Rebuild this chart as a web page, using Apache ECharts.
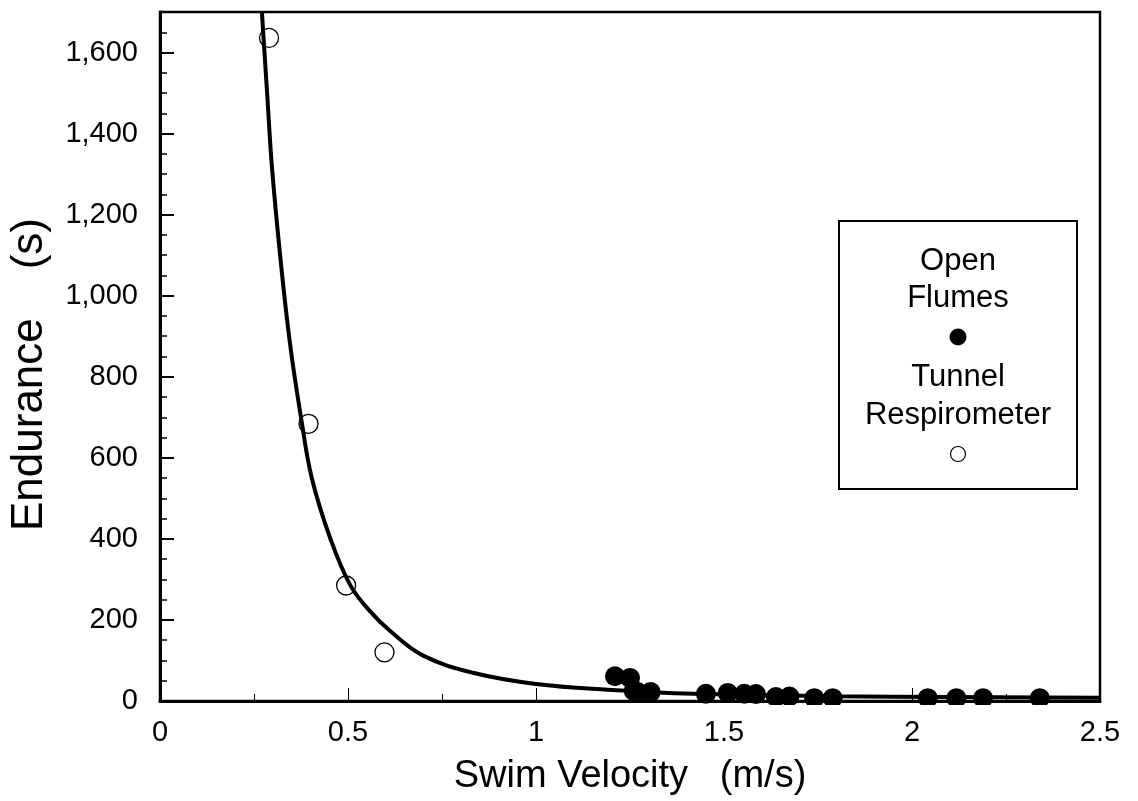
<!DOCTYPE html>
<html>
<head>
<meta charset="utf-8">
<script src="https://cdn.jsdelivr.net/npm/echarts@6/dist/echarts.min.js"></script>
<style>
  html, body { margin: 0; padding: 0; background: #fff; }
  #main { width: 1138px; height: 801px; }
</style>
</head>
<body>
<div id="main"></div>
<script>
// fitted curve
var fitVelocity  = [0.271, 0.286, 0.2975, 0.32, 0.346, 0.377, 0.404, 0.453, 0.506, 0.559, 0.613, 0.70, 0.835, 1.0, 1.19, 1.42, 1.8, 2.1, 2.5];
var fitEndurance = [1700, 1484, 1320, 1095, 880, 688, 549, 401, 286, 221, 172, 112, 69, 42, 28, 18, 12, 10, 8];

// open flumes (filled dots)
var flumeVelocity  = [1.21, 1.25, 1.26, 1.27, 1.305, 1.452, 1.51, 1.554, 1.585, 1.638, 1.674, 1.74, 1.789, 2.042, 2.118, 2.189, 2.34];
var flumeEndurance = [61, 57, 25, 22, 22, 18, 20, 18, 17, 10, 11, 7, 7, 7, 7, 7, 7];

// tunnel respirometer (open circles)
var tunnelVelocity  = [0.29, 0.395, 0.495, 0.597];
var tunnelEndurance = [1636, 684, 285, 120];

var seriesNames = ['Open\nFlumes', 'Tunnel\nRespirometer'];

function pairs(xs, ys) {
    var out = [];
    for (var i = 0; i < xs.length; i++) out.push([xs[i], ys[i]]);
    return out;
}

var font = 'Liberation Sans, Arial, sans-serif';
var G = { left: 160, top: 12, right: 38, bottom: 98 };
var W = 1138, H = 801;

var chart = echarts.init(document.getElementById('main'));

var option = {
    animation: false,
    backgroundColor: '#fff',
    grid: {
        left: G.left, top: G.top, right: G.right, bottom: G.bottom,
        show: true,
        borderColor: '#000',
        borderWidth: 2.5
    },
    xAxis: {
        type: 'value',
        min: 0, max: 2.5, interval: 0.5,
        name: 'Swim Velocity   (m/s)',
        nameLocation: 'middle',
        nameGap: 57,
        nameTextStyle: { fontFamily: font, fontSize: 38, color: '#000' },
        axisLine: { lineStyle: { color: '#000', width: 3 } },
        axisTick: { inside: true, length: 13, lineStyle: { color: '#000', width: 1 } },
        minorTick: { show: true, splitNumber: 2, length: 7, lineStyle: { color: '#000', width: 1 } },
        axisLabel: { fontFamily: font, fontSize: 29, color: '#000', margin: 17 },
        splitLine: { show: false }
    },
    yAxis: {
        type: 'value',
        min: 0, max: 1700, interval: 200,
        name: 'Endurance    (s)',
        nameLocation: 'middle',
        nameGap: 108,
        nameTextStyle: { fontFamily: font, fontSize: 44, color: '#000', padding: [0, 36, 0, 0] },
        axisLine: { show: true, lineStyle: { color: '#000', width: 3 } },
        axisTick: { inside: true, length: 14, lineStyle: { color: '#000', width: 2 } },
        minorTick: { show: true, splitNumber: 4, length: 7, lineStyle: { color: '#000', width: 1.5 } },
        axisLabel: {
            fontFamily: font, fontSize: 29, color: '#000', margin: 22,
            showMaxLabel: false,
            formatter: function (v) { return v.toLocaleString('en-US'); }
        },
        splitLine: { show: false }
    },
    series: [
        {
            name: 'fit',
            type: 'line',
            data: pairs(fitVelocity, fitEndurance),
            smooth: 0.4,
            showSymbol: false,
            clip: true,
            lineStyle: { color: '#000', width: 4 },
            z: 3
        },
        {
            name: seriesNames[0],
            type: 'scatter',
            data: pairs(flumeVelocity, flumeEndurance),
            symbol: 'circle',
            symbolSize: 20,
            itemStyle: { color: '#000', opacity: 1 },
            z: 4
        },
        {
            name: seriesNames[1],
            type: 'scatter',
            data: pairs(tunnelVelocity, tunnelEndurance),
            symbol: 'circle',
            symbolSize: 19,
            itemStyle: { color: 'rgba(255,255,255,0)', borderColor: '#000', borderWidth: 1.3, opacity: 1 },
            z: 4
        }
    ],
    graphic: [
        // hide the parts of the dots that fall below the x axis
        {
            type: 'rect',
            z: 100,
            shape: { x: G.left + 2, y: H - G.bottom + 2, width: W - G.left - G.right, height: 12 },
            style: { fill: '#fff' }
        },
        // legend box
        {
            type: 'group',
            left: 838, top: 220,
            z: 100,
            children: [
                { type: 'rect', shape: { x: 0, y: 0, width: 238, height: 268 },
                  style: { fill: '#fff', stroke: '#000', lineWidth: 2 } },
                { type: 'text', x: 119, y: 22,
                  style: { text: seriesNames[0], fontFamily: font, fontSize: 31, fill: '#000', align: 'center', lineHeight: 37 } },
                { type: 'circle', shape: { cx: 119, cy: 116, r: 8.5 }, style: { fill: '#000' } },
                { type: 'text', x: 119, y: 137,
                  style: { text: seriesNames[1], fontFamily: font, fontSize: 31, fill: '#000', align: 'center', lineHeight: 38 } },
                { type: 'circle', shape: { cx: 119, cy: 233, r: 7.5 }, style: { fill: '#fff', stroke: '#000', lineWidth: 1.2 } }
            ]
        }
    ]
};

chart.setOption(option);
</script>
</body>
</html>
